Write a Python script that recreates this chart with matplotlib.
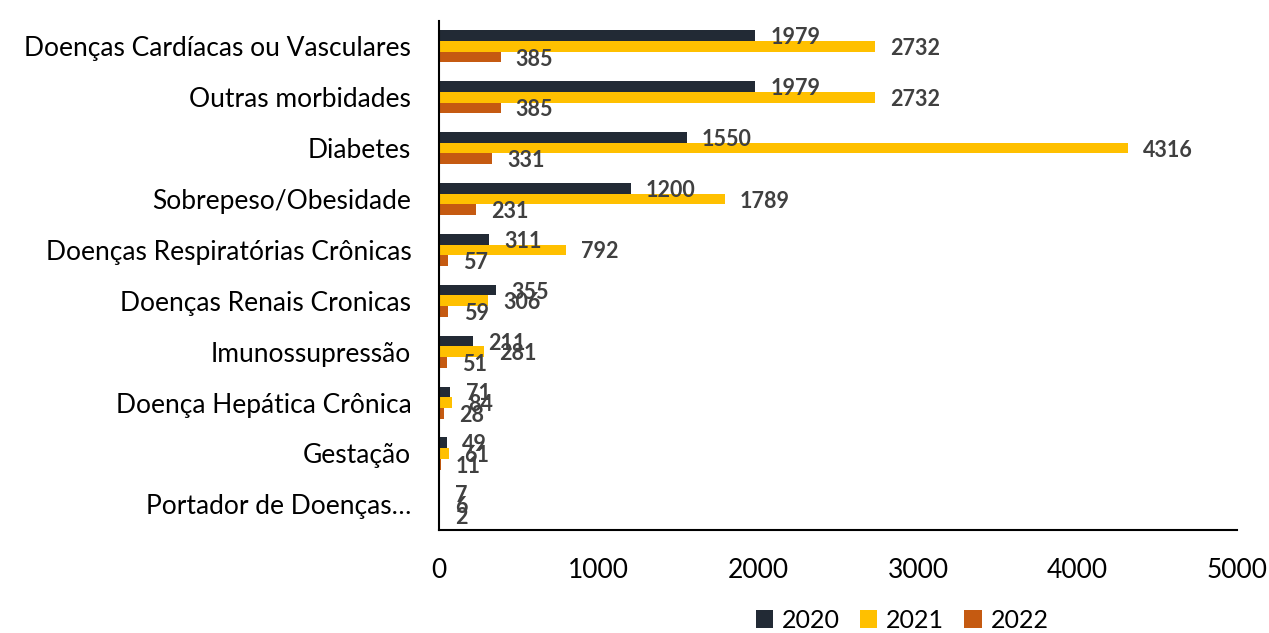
import numpy as np
import matplotlib.pyplot as plt

plt.rcParams['font.family'] = ['Lato', 'DejaVu Sans']

categories = ['Doenças Cardíacas ou Vasculares', 'Outras morbidades', 'Diabetes',
              'Sobrepeso/Obesidade', 'Doenças Respiratórias Crônicas',
              'Doenças Renais Cronicas', 'Imunossupressão', 'Doença Hepática Crônica',
              'Gestação', 'Portador de Doenças…']
years = ['2020', '2021', '2022']
vals_2020 = [1979, 1979, 1550, 1200, 311, 355, 211, 71, 49, 7]
vals_2021 = [2732, 2732, 4316, 1789, 792, 306, 281, 84, 61, 6]
vals_2022 = [385, 385, 331, 231, 57, 59, 51, 28, 11, 2]
colors = ['#222A35', '#FFC000', '#C55A11']

fig = plt.figure(figsize=(12.69, 6.33), dpi=100)
ax = fig.add_axes([0.346, 0.163, 0.629, 0.804])

y = np.arange(len(categories))
h = 0.21
series = [vals_2020, vals_2021, vals_2022]
for i, (vals, col, yr) in enumerate(zip(series, colors, years)):
    pos = y + (i - 1) * h
    ax.barh(pos, vals, height=h, color=col, label=yr, zorder=2)
    for p, v in zip(pos, vals):
        ax.annotate(str(v), (v, p), xytext=(11, -1.5), textcoords='offset points',
                    ha='left', va='center', fontsize=15.5, fontweight='bold',
                    color='#404040', zorder=5)

ax.set_xlim(0, 5000)
ax.set_ylim(len(categories) - 0.5, -0.5)
ax.set_xticks([0, 1000, 2000, 3000, 4000, 5000])
ax.set_yticks(y)
ax.set_yticklabels(categories)
ax.tick_params(axis='both', length=0, labelsize=19)
ax.tick_params(axis='x', pad=20)
ax.tick_params(axis='y', pad=20)
for s in ['top', 'right']:
    ax.spines[s].set_visible(False)
for s in ['left', 'bottom']:
    ax.spines[s].set_linewidth(1.5)
    ax.spines[s].set_color('black')

ax.legend(loc='center', bbox_to_anchor=(0.58, -0.178), ncol=3, frameon=False,
          fontsize=18, handlelength=0.7, handleheight=0.7, columnspacing=0.8,
          handletextpad=0.35, borderpad=0)

fig.savefig('out.png', dpi=100)
